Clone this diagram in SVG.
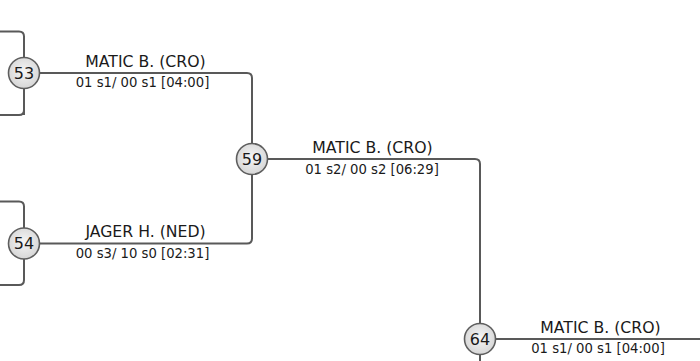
<svg xmlns="http://www.w3.org/2000/svg" width="700" height="361" viewBox="0 0 700 361">
<defs>
<radialGradient id="g" cx="50%" cy="45%" r="55%">
<stop offset="0%" stop-color="#f6f6f6"/>
<stop offset="100%" stop-color="#d6d6d6"/>
</radialGradient>
</defs>
<style>
.c{fill:none;stroke:#595959;stroke-width:2}
.n circle{fill:url(#g);stroke:#5e5e5e;stroke-width:1.6}
.num{font-family:"DejaVu Sans",sans-serif;font-size:16px;fill:#1a1a1a;text-anchor:middle}
.t{font-family:"DejaVu Sans",sans-serif;font-size:15.7px;fill:#1a1a1a;text-anchor:middle}
.s{font-family:"DejaVu Sans",sans-serif;font-size:13.2px;fill:#1a1a1a;text-anchor:middle}
</style>
<g id="connectors">
<path class="c" d="M0 31.5 H19 Q24 31.5 24 36.5 V115 M24 110 Q24 115 19 115 H0"/>
<path class="c" d="M0 201.5 H19 Q24 201.5 24 206.5 V280 Q24 285 19 285 H0"/>
<path class="c" d="M24 73 H247 Q252 73 252 78 V238.5 Q252 243.5 247 243.5 H24"/>
<path class="c" d="M252 159 H475 Q480 159 480 164 V361"/>
<path class="c" d="M480 339 H700"/>
</g>
<g id="n53" class="n"><circle cx="24" cy="73" r="15.5"/><text class="num" x="24" y="78.7">53</text></g>
<g id="n54" class="n"><circle cx="24" cy="243.5" r="15.5"/><text class="num" x="24" y="249.2">54</text></g>
<g id="n59" class="n"><circle cx="252" cy="159" r="15.5"/><text class="num" x="252" y="164.7">59</text></g>
<g id="n64" class="n"><circle cx="480" cy="339" r="15.5"/><text class="num" x="480" y="344.7">64</text></g>
<g id="labels">
<text class="t" x="145.5" y="67">MATIC B. (CRO)</text>
<text class="s" x="142.5" y="87">01 s1/ 00 s1 [04:00]</text>
<text class="t" x="145.5" y="237">JAGER H. (NED)</text>
<text class="s" x="142.5" y="257.5">00 s3/ 10 s0 [02:31]</text>
<text class="t" x="372.5" y="153">MATIC B. (CRO)</text>
<text class="s" x="372" y="173.5">01 s2/ 00 s2 [06:29]</text>
<text class="t" x="600.5" y="332.5">MATIC B. (CRO)</text>
<text class="s" x="598" y="353">01 s1/ 00 s1 [04:00]</text>
</g>
</svg>
